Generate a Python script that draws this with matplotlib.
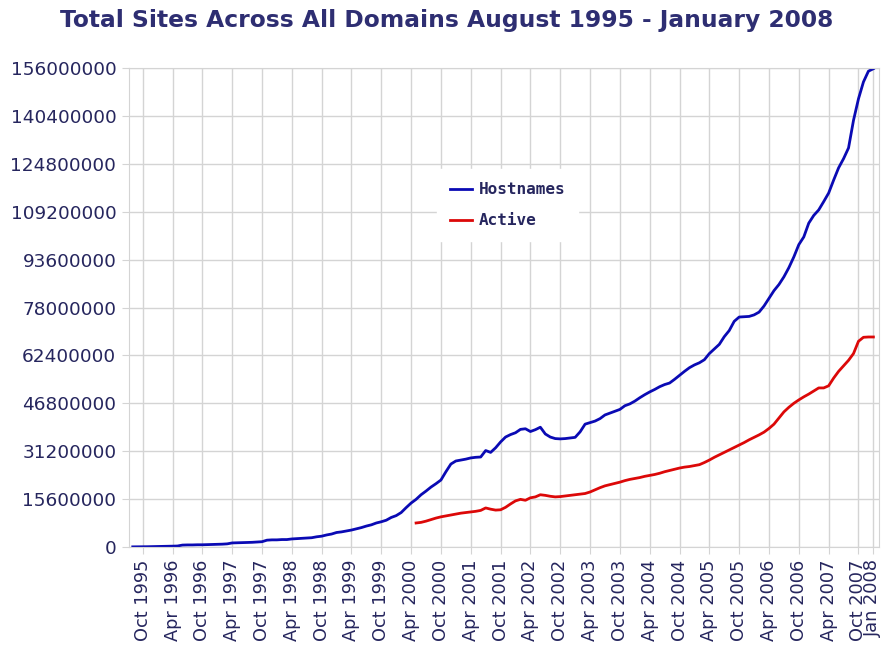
import numpy as np
import matplotlib.pyplot as plt

# monthly survey values, Aug 1995 .. Jan 2008, in millions of sites
hostnames = [0.02, 0.03, 0.05, 0.07, 0.10, 0.10, 0.15, 0.20, 0.25, 0.30,
             0.60, 0.65, 0.65, 0.70, 0.70, 0.75, 0.80, 0.85, 0.90, 1.00,
             1.30, 1.35, 1.40, 1.45, 1.50, 1.60, 1.70, 2.20, 2.30, 2.30,
             2.40, 2.40, 2.60, 2.70, 2.80, 2.90, 3.00, 3.30, 3.50, 3.90,
             4.20, 4.70, 4.90, 5.20, 5.50, 5.90, 6.30, 6.80, 7.20, 7.80,
             8.20, 8.70, 9.60, 10.2, 11.2, 12.8, 14.3, 15.5, 17.0, 18.2,
             19.5, 20.6, 21.8, 24.5, 27.0, 28.0, 28.3, 28.6, 29.0, 29.2,
             29.3, 31.4, 30.8, 32.3, 34.2, 35.8, 36.6, 37.2, 38.3, 38.5,
             37.6, 38.2, 39.0, 36.8, 35.8, 35.3, 35.2, 35.3, 35.5, 35.7,
             37.5, 40.0, 40.5, 41.0, 41.8, 43.0, 43.6, 44.2, 44.8, 46.0,
             46.6, 47.5, 48.6, 49.6, 50.5, 51.3, 52.2, 52.9, 53.4, 54.6,
             55.9, 57.2, 58.4, 59.3, 60.0, 61.0, 63.0, 64.5, 66.0, 68.5,
             70.5, 73.5, 74.9, 75.0, 75.1, 75.6, 76.5, 78.5, 81.0, 83.5,
             85.5, 88.0, 91.0, 94.5, 98.5, 101.0, 105.5, 108.0, 109.8, 112.5,
             115.3, 119.5, 123.5, 126.5, 130.0, 139.0, 146.0, 151.5, 155.0, 155.8]

# active sites start in May 2000
active_start = 57
active = [7.8, 8.0, 8.4,
          8.9, 9.4, 9.8, 10.1, 10.4, 10.7, 11.0, 11.2, 11.4, 11.6,
          11.9, 12.7, 12.3, 12.0, 12.1, 12.9, 14.0, 15.0, 15.5, 15.2,
          16.0, 16.3, 17.0, 16.8, 16.5, 16.3, 16.4, 16.6, 16.8, 17.0,
          17.2, 17.4, 17.9, 18.6, 19.3, 19.9, 20.3, 20.7, 21.1, 21.6,
          22.0, 22.3, 22.6, 23.0, 23.3, 23.6, 24.0, 24.5, 24.9, 25.3,
          25.7, 26.0, 26.2, 26.5, 26.8, 27.5, 28.3, 29.2, 30.0, 30.8,
          31.6, 32.4, 33.2, 34.0, 34.9, 35.7, 36.5, 37.4, 38.6, 40.0,
          42.0, 44.0, 45.5, 46.8, 47.9, 48.9, 49.8, 50.8, 51.8, 51.8,
          52.5, 55.0, 57.2, 59.0, 60.8, 63.0, 67.0, 68.3, 68.4, 68.4]

tick_months = [2, 8, 14, 20, 26, 32, 38, 44, 50, 56, 62, 68, 74, 80, 86, 92,
               98, 104, 110, 116, 122, 128, 134, 140, 146, 149]
tick_labels = ['Oct 1995', 'Apr 1996', 'Oct 1996', 'Apr 1997', 'Oct 1997',
               'Apr 1998', 'Oct 1998', 'Apr 1999', 'Oct 1999', 'Apr 2000',
               'Oct 2000', 'Apr 2001', 'Oct 2001', 'Apr 2002', 'Oct 2002',
               'Apr 2003', 'Oct 2003', 'Apr 2004', 'Oct 2004', 'Apr 2005',
               'Oct 2005', 'Apr 2006', 'Oct 2006', 'Apr 2007', 'Oct 2007',
               'Jan 2008']
y_ticks = [0, 15600000, 31200000, 46800000, 62400000, 78000000, 93600000,
           109200000, 124800000, 140400000, 156000000]

navy = '#26265e'
grid_col = '#d4d4d4'

x_host = np.arange(len(hostnames))
y_host = np.array(hostnames) * 1e6
x_act = np.arange(active_start, active_start + len(active))
y_act = np.array(active) * 1e6

fig = plt.figure(figsize=(8.82, 6.55), dpi=100)
ax = fig.add_axes([0.146, 0.165, 0.851, 0.731])

ax.plot(x_host, y_host, color='#0a0ab4', lw=2.0, label='Hostnames')
ax.plot(x_act, y_act, color='#dc0808', lw=2.0, label='Active')

ax.set_xlim(-0.8, 150.2)
ax.set_ylim(0, 156000000)
ax.set_yticks(y_ticks)
ax.set_yticklabels([str(v) for v in y_ticks], fontsize=13.3, color=navy)
ax.set_xticks(tick_months)
ax.set_xticklabels(tick_labels, rotation=90, fontsize=12.8, color=navy)

ax.grid(True, color=grid_col, lw=1)
ax.set_axisbelow(True)
ax.tick_params(axis='both', length=5, color=grid_col, pad=4)
for s in ax.spines.values():
    s.set_color(grid_col)

leg = ax.legend(loc='upper left', bbox_to_anchor=(0.40, 0.805),
                prop={'family': 'DejaVu Sans Mono', 'size': 11.5, 'weight': 'bold'},
                frameon=True, handlelength=1.4, labelspacing=1.0,
                borderpad=0.8, handletextpad=0.4)
leg.get_frame().set_facecolor('white')
leg.get_frame().set_edgecolor('white')
leg.get_frame().set_alpha(1)
for t in leg.get_texts():
    t.set_color(navy)

fig.text(0.507, 0.968, 'Total Sites Across All Domains August 1995 - January 2008',
         ha='center', va='center', fontsize=16.8, fontweight='bold', color='#2e2e72')

fig.savefig('out.png', dpi=100, facecolor='white')
